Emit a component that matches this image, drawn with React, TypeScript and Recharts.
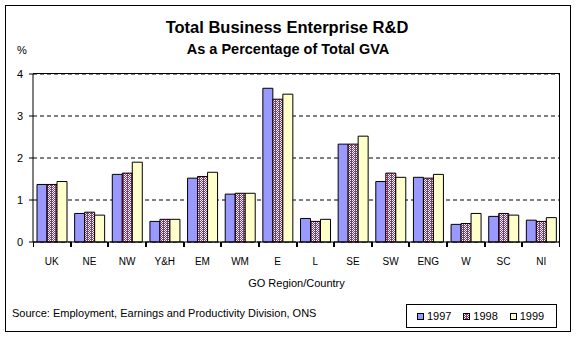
import { BarChart, Bar, XAxis, YAxis, CartesianGrid, Legend } from 'recharts';

const regions = ['UK', 'NE', 'NW', 'Y&H', 'EM', 'WM', 'E', 'L', 'SE', 'SW', 'ENG', 'W', 'SC', 'NI'];
const v1997 = [1.37, 0.68, 1.61, 0.49, 1.52, 1.14, 3.66, 0.56, 2.33, 1.44, 1.54, 0.42, 0.61, 0.52];
const v1998 = [1.37, 0.71, 1.64, 0.54, 1.56, 1.16, 3.40, 0.49, 2.33, 1.64, 1.52, 0.44, 0.68, 0.49];
const v1999 = [1.44, 0.64, 1.90, 0.54, 1.66, 1.16, 3.52, 0.54, 2.52, 1.54, 1.61, 0.68, 0.64, 0.58];
const yTicks = [0, 1, 2, 3, 4];

const data = regions.map((r, i) => ({
  region: r,
  y1997: v1997[i],
  y1998: v1998[i],
  y1999: v1999[i],
}));

const FONT = '"Liberation Sans", Arial, sans-serif';

// category label plus tick marks on the band edges (Excel style)
function RegionTick(props: any) {
  const { x, y, payload, width, visibleTicksCount } = props;
  const half = payload && payload.offset ? payload.offset : width / (visibleTicksCount || regions.length) / 2;
  const top = y - 16;
  const left = Math.round(x - half) + 0.5;
  const right = Math.round(x + half) - 0.5;
  return (
    <g>
      <path d={`M${left},${top}V${top + 5}`} stroke="#000" />
      <path d={`M${right},${top}V${top + 5}`} stroke="#000" />
      <text x={x} y={y} dy="0.71em" textAnchor="middle" fontSize={10} fill="#000">
        {payload.value}
      </text>
    </g>
  );
}

function LegendBox({ payload }: any) {
  return (
    <div
      style={{
        display: 'flex',
        alignItems: 'center',
        height: '100%',
        paddingLeft: 10,
        boxSizing: 'border-box',
        fontSize: 11,
        color: '#000',
      }}
    >
      {(payload || []).map((p: any) => (
        <div key={p.value} style={{ display: 'flex', alignItems: 'center', width: 49 }}>
          <svg width={7} height={7} style={{ marginRight: 3 }}>
            <rect x={0.5} y={0.5} width={6} height={6} fill={p.color} stroke="#000" />
          </svg>
          <span>{p.value}</span>
        </div>
      ))}
    </div>
  );
}

export default function App() {
  return (
    <div
      style={{
        position: 'absolute',
        left: 0,
        top: 0,
        width: 576,
        height: 338,
        background: '#fff',
        fontFamily: FONT,
        color: '#000',
      }}
    >
      <div
        style={{
          position: 'absolute',
          left: 5,
          top: 5,
          width: 566,
          height: 327,
          border: '1px solid #000',
          boxSizing: 'border-box',
        }}
      />
      <div style={{ position: 'absolute', left: 0, width: 574, top: 19, textAlign: 'center', fontSize: 16.5, fontWeight: 'bold', lineHeight: 1 }}>
        Total Business Enterprise R&amp;D
      </div>
      <div style={{ position: 'absolute', left: 0, width: 576, top: 42, textAlign: 'center', fontSize: 14.5, fontWeight: 'bold', lineHeight: 1 }}>
        As a Percentage of Total GVA
      </div>
      <div style={{ position: 'absolute', left: 17, top: 45, fontSize: 11, lineHeight: 1 }}>%</div>
      <div style={{ position: 'absolute', left: 33, width: 527, top: 278, textAlign: 'center', fontSize: 11, lineHeight: 1 }}>
        GO Region/Country
      </div>
      <div style={{ position: 'absolute', left: 12, top: 308, fontSize: 11, lineHeight: 1 }}>
        Source: Employment, Earnings and Productivity Division, ONS
      </div>
      <BarChart
        width={576}
        height={338}
        data={data}
        margin={{ top: 74, right: 16, bottom: 56, left: 13 }}
        barGap={0}
        barSize={10}
      >
        <defs>
          <pattern id="check98" width="4" height="2" patternUnits="userSpaceOnUse">
            <rect width="4" height="2" fill="#993366" />
            <rect x="0" y="0" width="1" height="1" fill="#ffffff" />
            <rect x="2" y="0" width="1" height="1" fill="#ffffff" />
            <rect x="1" y="1" width="1" height="1" fill="#ffffff" />
          </pattern>
        </defs>
        <CartesianGrid vertical={false} stroke="#000" strokeDasharray="4 3" />
        <XAxis
          dataKey="region"
          height={40}
          tickLine={false}
          tickSize={5}
          tickMargin={11}
          axisLine={{ stroke: '#000' }}
          tick={<RegionTick />}
          interval={0}
        />
        {/* zero-size axes that only draw the top and right edges of the plot frame */}
        <XAxis xAxisId="frameTop" orientation="top" dataKey="region" height={0} tick={false} tickLine={false} axisLine={{ stroke: '#000' }} />
        <YAxis
          domain={[0, 4]}
          ticks={yTicks}
          width={20}
          tickSize={4}
          tickMargin={6}
          axisLine={{ stroke: '#000' }}
          tickLine={{ stroke: '#000' }}
          tick={{ fontSize: 11, fill: '#000' }}
        />
        <YAxis yAxisId="frameRight" orientation="right" domain={[0, 4]} width={0} tick={false} tickLine={false} axisLine={{ stroke: '#000' }} />
        <Bar dataKey="y1997" name="1997" fill="#9999ff" stroke="#000" isAnimationActive={false} />
        <Bar dataKey="y1998" name="1998" fill="url(#check98)" stroke="#000" isAnimationActive={false} />
        <Bar dataKey="y1999" name="1999" fill="#ffffcc" stroke="#000" isAnimationActive={false} />
        <Legend
          layout="vertical"
          align="center"
          verticalAlign="middle"
          content={<LegendBox />}
          wrapperStyle={{
            left: 406,
            top: 304,
            width: 151,
            height: 24,
            border: '1px solid #000',
            boxSizing: 'border-box',
            background: '#fff',
          }}
        />
      </BarChart>
      {/* plot frame edges (top and right), solid like the original */}
      <div style={{ position: 'absolute', left: 33, top: 73, width: 527, height: 1, background: '#000', pointerEvents: 'none' }} />
      <div style={{ position: 'absolute', left: 559, top: 73, width: 1, height: 169, background: '#000', pointerEvents: 'none' }} />
    </div>
  );
}
